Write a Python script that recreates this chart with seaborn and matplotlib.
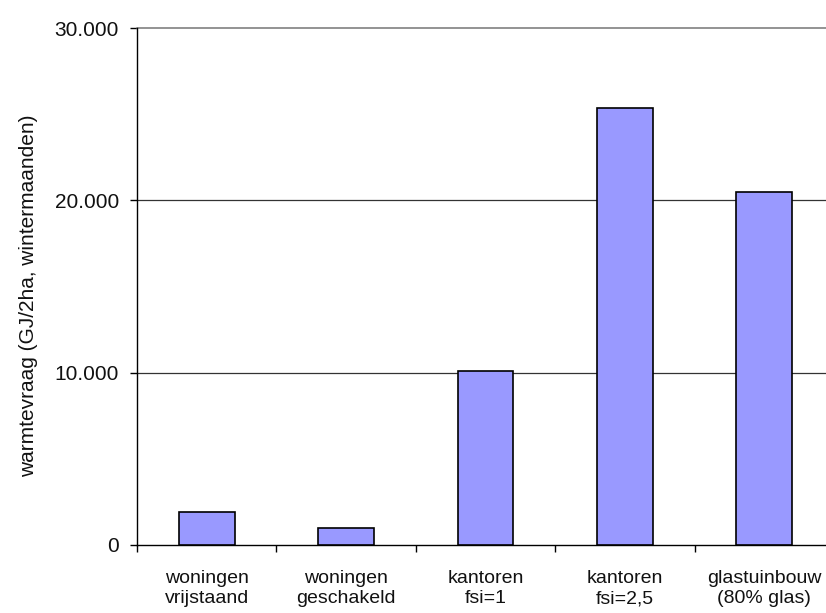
import matplotlib
matplotlib.use("Agg")
import matplotlib.pyplot as plt
import matplotlib.ticker as mticker
import seaborn as sns
import pandas as pd

categories = ["woningen\nvrijstaand", "woningen\ngeschakeld", "kantoren\nfsi=1",
              "kantoren\nfsi=2,5", "glastuinbouw\n(80% glas)"]
values = [1900, 1000, 10100, 25350, 20480]
yticks = [0, 10000, 20000, 30000]
ylabel = "warmtevraag (GJ/2ha, wintermaanden)"

sns.set_theme(style="white")
plt.rcParams['font.family'] = ['Liberation Sans', 'DejaVu Sans']

df = pd.DataFrame({"cat": categories, "val": values})

fig = plt.figure(figsize=(8.26, 6.13), dpi=100)
ax = fig.add_axes([137/826, 1-545/613, (834-137)/826, (545-28)/613])

sns.barplot(data=df, x="cat", y="val", color="#9999FF", edgecolor="black",
            linewidth=1.2, width=0.4, saturation=1, ax=ax, zorder=3)

ax.set_xlim(-0.5, 4.5)
ax.set_ylim(0, 30000)
ax.set_yticks(yticks)
ax.yaxis.set_major_formatter(mticker.FuncFormatter(lambda v, p: f"{int(v):,}".replace(",", ".")))
for y in yticks[1:-1]:
    ax.axhline(y, color="#333333", lw=0.9, zorder=1)
ax.axhline(30000, color="#808080", lw=1.2, zorder=1, clip_on=False)

ax.set_xticks(range(len(categories)))
ax.set_xticklabels(categories, fontsize=14, linespacing=1.25, color="#111111")
ax.tick_params(axis="x", which="major", length=0, pad=18)
ax.set_xticks([i - 0.5 for i in range(len(categories) + 1)], minor=True)
ax.tick_params(axis="x", which="minor", length=5, width=1, color="black", direction="out", bottom=True)
ax.tick_params(axis="y", length=5, width=1, color="black", direction="out", left=True,
               labelsize=15, pad=8, labelcolor="#111111")

for s in ["top", "right"]:
    ax.spines[s].set_visible(False)
for s in ["left", "bottom"]:
    ax.spines[s].set_color("black")
    ax.spines[s].set_linewidth(1)

ax.set_xlabel("")
ax.set_ylabel("")
fig.text(29/826, 1-296/613, ylabel, rotation=90, ha="center", va="center",
         fontsize=15, color="#111111")

fig.savefig("out.png", dpi=100)
